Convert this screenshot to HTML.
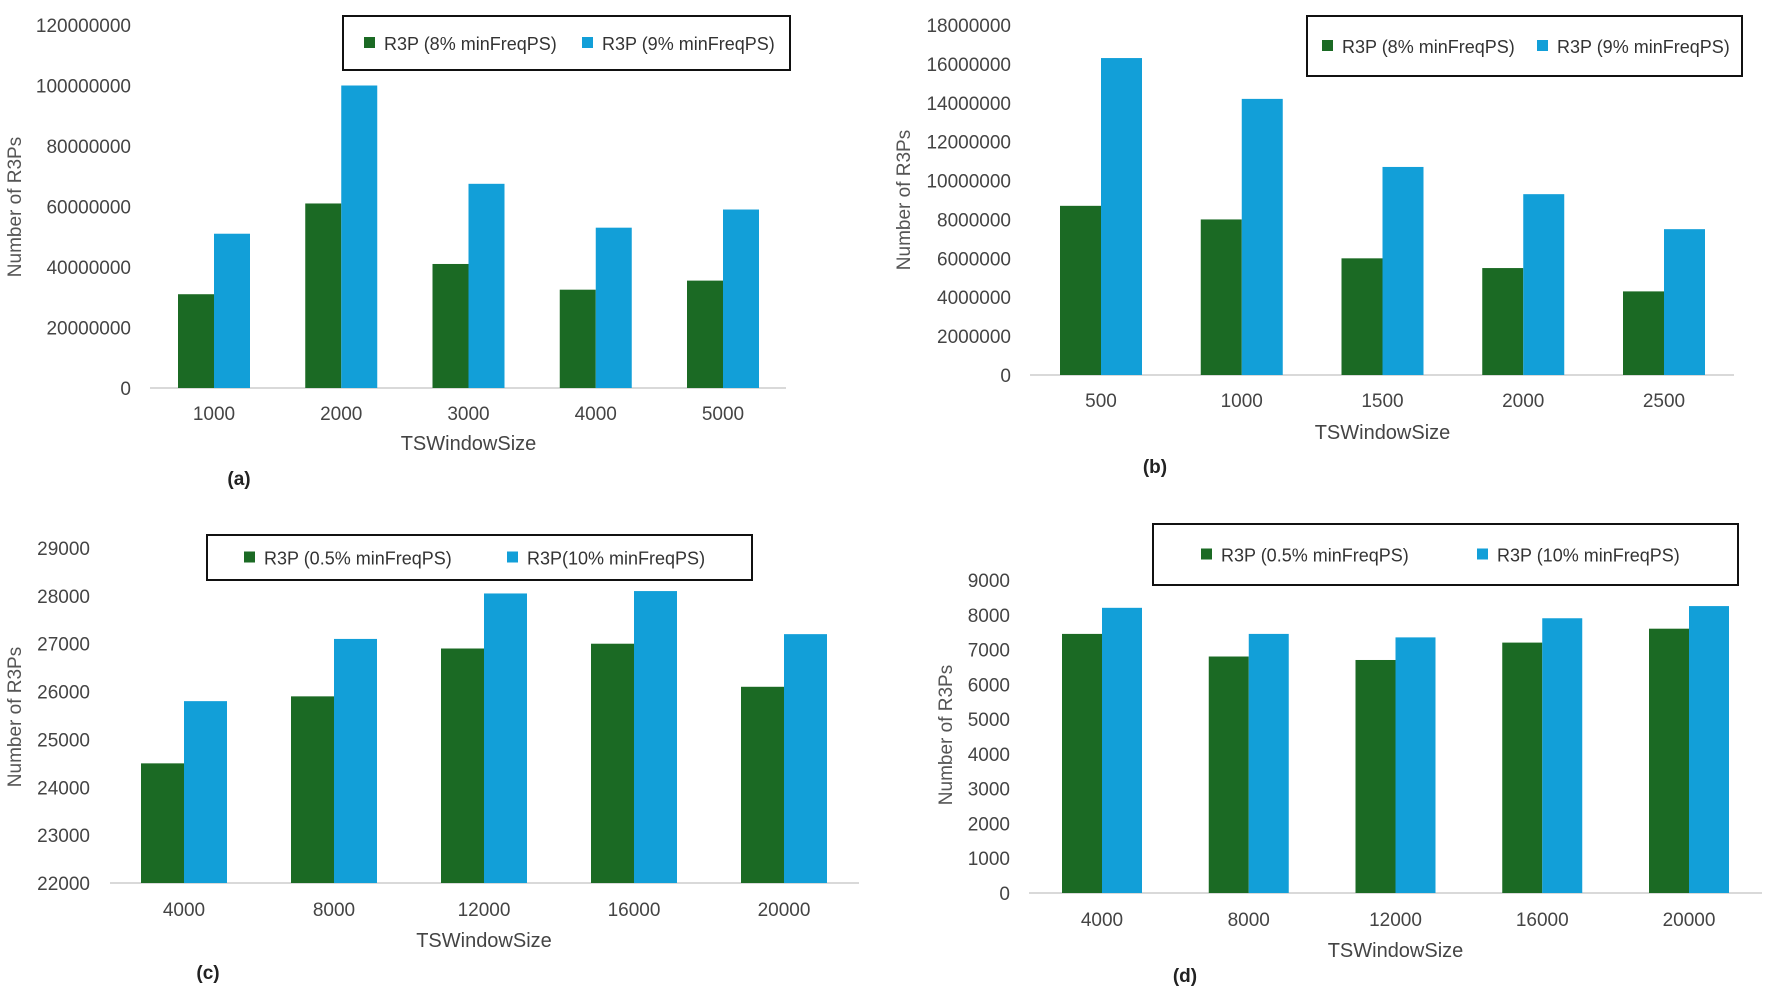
<!DOCTYPE html>
<html><head><meta charset="utf-8"><style>
body{margin:0;background:#fff}
svg{display:block;font-family:"Liberation Sans",sans-serif}
</style></head><body>
<svg id="fig" width="1772" height="995" viewBox="0 0 1772 995" xmlns="http://www.w3.org/2000/svg"></svg>
<script>
// Chart (a)
const catsA = ["1000","2000","3000","4000","5000"];
const greenA = [31000000,61000000,41000000,32500000,35500000];
const blueA = [51000000,100000000,67500000,53000000,59000000];
const ticksA = [0,20000000,40000000,60000000,80000000,100000000,120000000];
const legendA = ["R3P (8% minFreqPS)","R3P (9% minFreqPS)"];
// Chart (b)
const catsB = ["500","1000","1500","2000","2500"];
const greenB = [8700000,8000000,6000000,5500000,4300000];
const blueB = [16300000,14200000,10700000,9300000,7500000];
const ticksB = [0,2000000,4000000,6000000,8000000,10000000,12000000,14000000,16000000,18000000];
const legendB = ["R3P (8% minFreqPS)","R3P (9% minFreqPS)"];
// Chart (c)
const catsC = ["4000","8000","12000","16000","20000"];
const greenC = [24500,25900,26900,27000,26100];
const blueC = [25800,27100,28050,28100,27200];
const ticksC = [22000,23000,24000,25000,26000,27000,28000,29000];
const legendC = ["R3P (0.5% minFreqPS)","R3P(10% minFreqPS)"];
// Chart (d)
const catsD = ["4000","8000","12000","16000","20000"];
const greenD = [7450,6800,6700,7200,7600];
const blueD = [8200,7450,7350,7900,8250];
const ticksD = [0,1000,2000,3000,4000,5000,6000,7000,8000,9000];
const legendD = ["R3P (0.5% minFreqPS)","R3P (10% minFreqPS)"];

const NS="http://www.w3.org/2000/svg";
const svg=document.getElementById('fig');
function mk(tag,attrs,parent,text){const e=document.createElementNS(NS,tag);for(const k in attrs)e.setAttribute(k,attrs[k]);if(text!==undefined)e.textContent=text;(parent||svg).appendChild(e);return e;}

function chart(id,cfg,cats,g,b,ticks,leg){
  const grp=mk('g',{});
  
  
  const y0=cfg.y0, y1=cfg.y1, vmin=ticks[0], vmax=ticks[ticks.length-1];
  const ys=v=>y0-(v-vmin)/(vmax-vmin)*(y0-y1);
  const step=(cfg.cLast-cfg.cFirst)/(cats.length-1);
  const xs=i=>cfg.cFirst+i*step;
  ticks.forEach(t=>{
    const e=mk('text',{x:cfg.tickX,y:ys(t)+7,'text-anchor':'end','font-size':19,fill:'#444'},grp,String(t));
    
    
  });
  const ax=mk('line',{x1:cfg.axL,x2:cfg.axR,y1:y0,y2:y0,stroke:'#d9d9d9','stroke-width':2},grp);
  
  
  cats.forEach((c,i)=>{
    const cx=xs(i);
    const rg=mk('rect',{x:cx-cfg.bw,y:ys(g[i]),width:cfg.bw,height:y0-ys(g[i]),fill:'#1b6a24'},grp);
    
    
    const rb=mk('rect',{x:cx,y:ys(b[i]),width:cfg.bw,height:y0-ys(b[i]),fill:'#129fd8'},grp);
    
    
    const tl=mk('text',{x:cx,y:cfg.xlY+7,'text-anchor':'middle','font-size':19,fill:'#444'},grp,c);
    
    
  });
  const xt=mk('text',{x:(cfg.cFirst+cfg.cLast)/2,y:cfg.xtY+7,'text-anchor':'middle','font-size':20,fill:'#444'},grp,'TSWindowSize');
  
  
  const yt=mk('text',{x:0,y:0,'text-anchor':'middle','font-size':19,fill:'#555',transform:`translate(${cfg.ytX+7},${cfg.ytY}) rotate(-90)`},grp,'Number of R3Ps');
  
  
  const pl=mk('text',{x:cfg.plX,y:cfg.plY+7,'text-anchor':'middle','font-size':19,'font-weight':'bold',fill:'#222'},grp,'('+id+')');
  
  
  const lb=mk('rect',{x:cfg.lg[0],y:cfg.lg[1],width:cfg.lg[2]-cfg.lg[0],height:cfg.lg[3]-cfg.lg[1],fill:'#fff',stroke:'#111','stroke-width':2},grp);
  
  
  const ly=(cfg.lg[1]+cfg.lg[3])/2;
  const cols=['#1b6a24','#129fd8'];
  leg.forEach((t,k)=>{
    const mx=cfg.lm[k];
    const m=mk('rect',{x:mx,y:ly-6,width:11,height:11,fill:cols[k]},grp);
    
    
    const lt=mk('text',{x:mx+20,y:ly+7,'font-size':18,fill:'#333'},grp,t);
    
    
  });
}

chart('a',{y0:388,y1:25,cFirst:214,cLast:723,bw:36,tickX:131,axL:150,axR:786,xlY:413,xtY:443,ytX:14,ytY:207,plX:239,plY:478,lg:[343,16,790,70],lm:[364,582]},catsA,greenA,blueA,ticksA,legendA);
chart('b',{y0:375,y1:25,cFirst:1101,cLast:1664,bw:41,tickX:1011,axL:1030,axR:1734,xlY:400,xtY:432,ytX:903,ytY:200,plX:1155,plY:466,lg:[1307,16,1742,76],lm:[1322,1537]},catsB,greenB,blueB,ticksB,legendB);
chart('c',{y0:883,y1:548,cFirst:184,cLast:784,bw:43,tickX:90,axL:110,axR:859,xlY:909,xtY:940,ytX:14,ytY:717,plX:208,plY:972,lg:[207,535,752,580],lm:[244,507]},catsC,greenC,blueC,ticksC,legendC);
chart('d',{y0:893,y1:580,cFirst:1102,cLast:1689,bw:40,tickX:1010,axL:1029,axR:1762,xlY:919,xtY:950,ytX:945,ytY:735,plX:1185,plY:975,lg:[1153,524,1738,585],lm:[1201,1477]},catsD,greenD,blueD,ticksD,legendD);
</script>
</body></html>
